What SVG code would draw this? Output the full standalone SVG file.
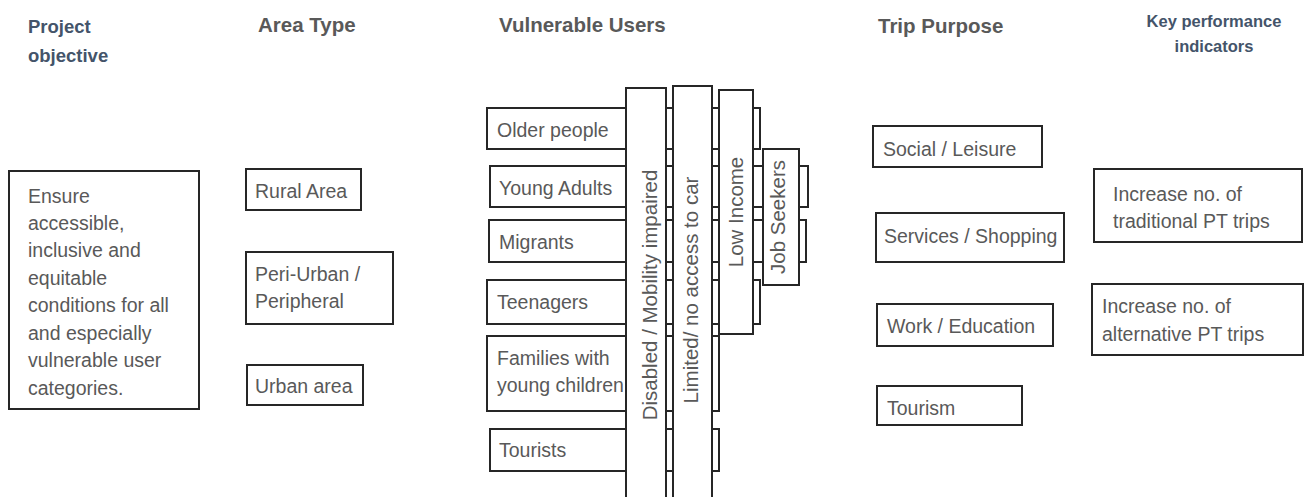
<svg xmlns="http://www.w3.org/2000/svg" width="1304" height="497" viewBox="0 0 1304 497">
<style>
.box{fill:#fff;stroke:#262626;stroke-width:2}
.t{font-family:"Liberation Sans",Arial,sans-serif;font-size:19.5px;fill:#595959}
.v{font-family:"Liberation Sans",Arial,sans-serif;font-size:20.5px;fill:#595959;text-anchor:middle}
.h{font-family:"Liberation Sans",Arial,sans-serif;font-weight:bold;font-size:20.5px;fill:#595959}
.hb{font-family:"Liberation Sans",Arial,sans-serif;font-weight:bold;fill:#44546A}
</style>
<rect width="1304" height="497" fill="#fff"/>

<g id="headers">
<text class="hb" x="28" y="33" font-size="18.5">Project</text>
<text class="hb" x="28" y="62" font-size="18.5">objective</text>
<text class="h" x="258" y="32">Area Type</text>
<text class="h" x="499" y="32">Vulnerable Users</text>
<text class="h" x="878" y="33">Trip Purpose</text>
<text class="hb" x="1214" y="27" font-size="16.5" text-anchor="middle">Key performance</text>
<text class="hb" x="1214" y="52" font-size="16.5" text-anchor="middle">indicators</text>
</g>

<g id="objective">
<rect class="box" x="9" y="171" width="190" height="238"/>
<text class="t" x="28" y="203">Ensure</text>
<text class="t" x="28" y="230">accessible,</text>
<text class="t" x="28" y="257">inclusive and</text>
<text class="t" x="28" y="285">equitable</text>
<text class="t" x="28" y="312">conditions for all</text>
<text class="t" x="28" y="340">and especially</text>
<text class="t" x="28" y="367">vulnerable user</text>
<text class="t" x="28" y="395">categories.</text>
</g>

<g id="area-rural">
<rect class="box" x="246" y="169" width="115" height="41"/>
<text class="t" x="255" y="198">Rural Area</text>
</g>
<g id="area-peri">
<rect class="box" x="246" y="252" width="147" height="72"/>
<text class="t" x="255" y="281">Peri-Urban /</text>
<text class="t" x="255" y="308">Peripheral</text>
</g>
<g id="area-urban">
<rect class="box" x="247" y="365" width="116" height="40"/>
<text class="t" x="255" y="393">Urban area</text>
</g>

<g id="user-older">
<rect class="box" x="487" y="108" width="273" height="41"/>
<text class="t" x="497" y="137">Older people</text>
</g>
<g id="user-young">
<rect class="box" x="490" y="166" width="318" height="41"/>
<text class="t" x="499" y="195">Young Adults</text>
</g>
<g id="user-migrants">
<rect class="box" x="489" y="220" width="317" height="42"/>
<text class="t" x="499" y="249">Migrants</text>
</g>
<g id="user-teen">
<rect class="box" x="487" y="280" width="273" height="44"/>
<text class="t" x="497" y="309">Teenagers</text>
</g>
<g id="user-families">
<rect class="box" x="487" y="336" width="232" height="75"/>
<text class="t" x="497" y="365">Families with</text>
<text class="t" x="497" y="392">young children</text>
</g>
<g id="user-tourists">
<rect class="box" x="490" y="429" width="229" height="42"/>
<text class="t" x="499" y="457">Tourists</text>
</g>

<g id="bar-disabled">
<rect class="box" x="626" y="88" width="40" height="420"/>
<text class="v" transform="translate(657 295) rotate(-90)">Disabled / Mobility impaired</text>
</g>
<g id="bar-limited">
<rect class="box" x="673" y="86" width="39" height="422"/>
<text class="v" transform="translate(698 290) rotate(-90)">Limited/ no access to car</text>
</g>
<g id="bar-lowincome">
<rect class="box" x="719" y="90" width="34" height="244"/>
<text class="v" transform="translate(743 212) rotate(-90)">Low Income</text>
</g>
<g id="bar-jobseekers">
<rect class="box" x="763" y="149" width="36" height="136"/>
<text class="v" transform="translate(785 217) rotate(-90)">Job Seekers</text>
</g>

<g id="trip-social">
<rect class="box" x="873" y="126" width="169" height="41"/>
<text class="t" x="883" y="156">Social / Leisure</text>
</g>
<g id="trip-services">
<rect class="box" x="876" y="213" width="188" height="49"/>
<text class="t" x="884" y="243">Services / Shopping</text>
</g>
<g id="trip-work">
<rect class="box" x="877" y="304" width="176" height="42"/>
<text class="t" x="887" y="333">Work / Education</text>
</g>
<g id="trip-tourism">
<rect class="box" x="877" y="386" width="145" height="39"/>
<text class="t" x="887" y="415">Tourism</text>
</g>

<g id="kpi-traditional">
<rect class="box" x="1094" y="169" width="208" height="73"/>
<text class="t" x="1113" y="201">Increase no. of</text>
<text class="t" x="1113" y="228">traditional PT trips</text>
</g>
<g id="kpi-alternative">
<rect class="box" x="1092" y="284" width="211" height="71"/>
<text class="t" x="1102" y="313">Increase no. of</text>
<text class="t" x="1102" y="341">alternative PT trips</text>
</g>

<g id="connectors"/>
</svg>
